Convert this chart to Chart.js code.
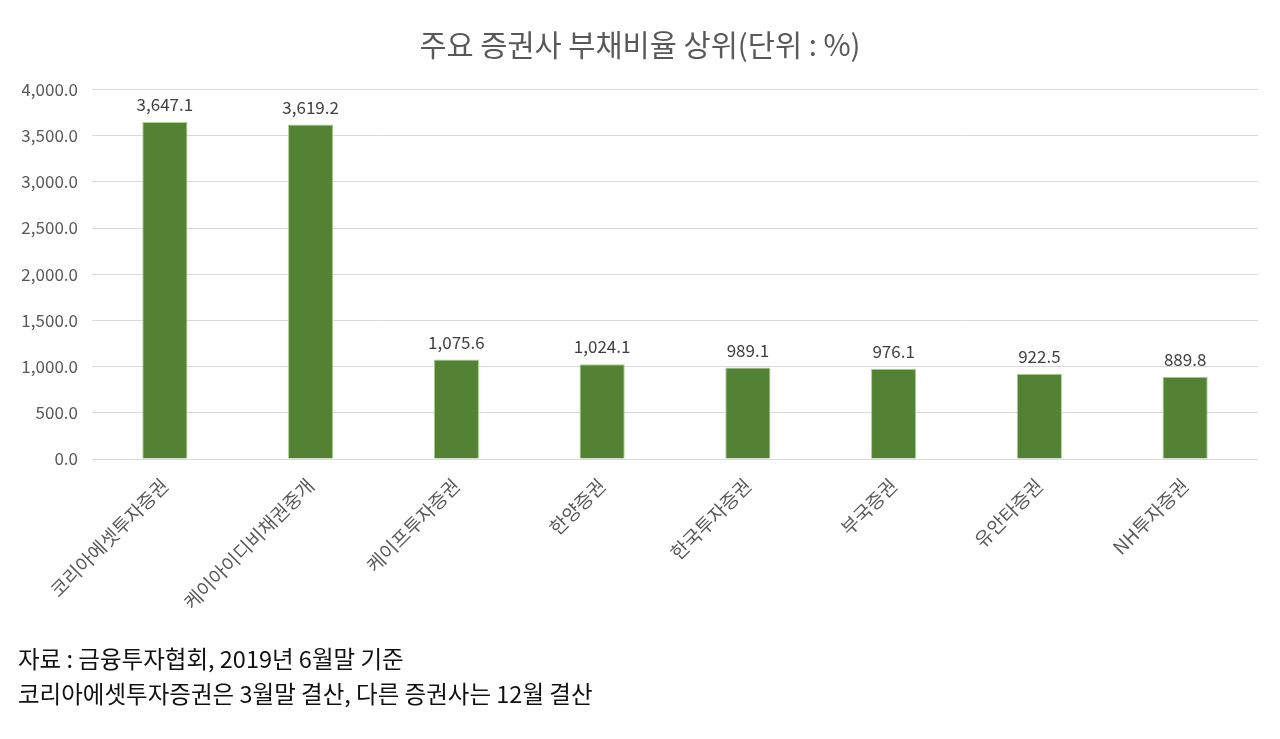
<!DOCTYPE html>
<html>
<head>
<meta charset="utf-8">
<script src="https://cdn.jsdelivr.net/npm/chart.js@4/dist/chart.umd.min.js"></script>
<style>
  html, body { margin:0; padding:0; background:#fff; }
  #wrap { position:relative; width:1280px; height:739px; }
  #chart { position:absolute; left:0; top:0; }
  .note {
    position:absolute; left:18px;
    font-family:"Noto Sans CJK KR", "Noto Sans", sans-serif;
    font-size:23.5px; color:#111; white-space:nowrap; line-height:1;
  }
</style>
</head>
<body>
<div id="wrap">
  <canvas id="chart" width="1280" height="739"></canvas>
  <div class="note" style="top:647px;">자료 : 금융투자협회, 2019년 6월말 기준</div>
  <div class="note" style="top:682px;">코리아에셋투자증권은 3월말 결산, 다른 증권사는 12월 결산</div>
</div>
<script>
const companies = ['코리아에셋투자증권', '케이아이디비채권중개', '케이프투자증권', '한양증권',
                   '한국투자증권', '부국증권', '유안타증권', 'NH투자증권'];
const debtRatio = [3647.1, 3619.2, 1075.6, 1024.1, 989.1, 976.1, 922.5, 889.8];
const yTicks    = [0, 500, 1000, 1500, 2000, 2500, 3000, 3500, 4000];

const FONT = '"Noto Sans CJK KR", "Noto Sans", sans-serif';

function fmt(v) {
  return v.toLocaleString('en-US', { minimumFractionDigits: 1, maximumFractionDigits: 1 });
}

// value labels above each bar
const valueLabels = {
  id: 'valueLabels',
  afterDatasetsDraw(chart) {
    const ctx = chart.ctx;
    const meta = chart.getDatasetMeta(0);
    ctx.save();
    ctx.font = '17px ' + FONT;
    ctx.fillStyle = '#404040';
    ctx.textAlign = 'center';
    ctx.textBaseline = 'bottom';
    meta.data.forEach((bar, i) => {
      ctx.fillText(fmt(debtRatio[i]), bar.x, bar.y - 9);
    });
    ctx.restore();
  }
};

new Chart(document.getElementById('chart').getContext('2d'), {
  type: 'bar',
  data: {
    labels: companies,
    datasets: [{
      data: debtRatio,
      backgroundColor: '#548235',
      borderColor: '#a9d18e',
      borderWidth: 1,
      categoryPercentage: 1,
      barPercentage: 0.31
    }]
  },
  options: {
    responsive: false,
    animation: false,
    // equal side padding keeps the title centred on the page
    layout: { padding: { left: 22, right: 22, top: 0, bottom: 120 } },
    plugins: {
      legend: { display: false },
      tooltip: { enabled: false },
      title: {
        display: true,
        text: '주요 증권사 부채비율 상위(단위 : %)',
        color: '#595959',
        font: { family: FONT, size: 29.5, weight: 'normal' },
        padding: { top: 27, bottom: 27 }
      }
    },
    scales: {
      x: {
        grid: { display: false },
        border: { display: false },
        ticks: {
          color: '#595959',
          font: { family: FONT, size: 19 },
          maxRotation: 45,
          minRotation: 45,
          padding: 7
        },
        afterFit(axis) { axis.height = 160; }
      },
      y: {
        min: 0,
        max: 4000,
        afterBuildTicks(axis) { axis.ticks = yTicks.map(v => ({ value: v })); },
        grid: { color: '#d9d9d9', drawTicks: false },
        border: { display: false },
        ticks: {
          color: '#595959',
          font: { family: FONT, size: 17 },
          padding: 14,
          callback: v => fmt(v)
        },
        afterFit(axis) { axis.width = 70; }
      }
    }
  },
  plugins: [valueLabels]
});
</script>
</body>
</html>
